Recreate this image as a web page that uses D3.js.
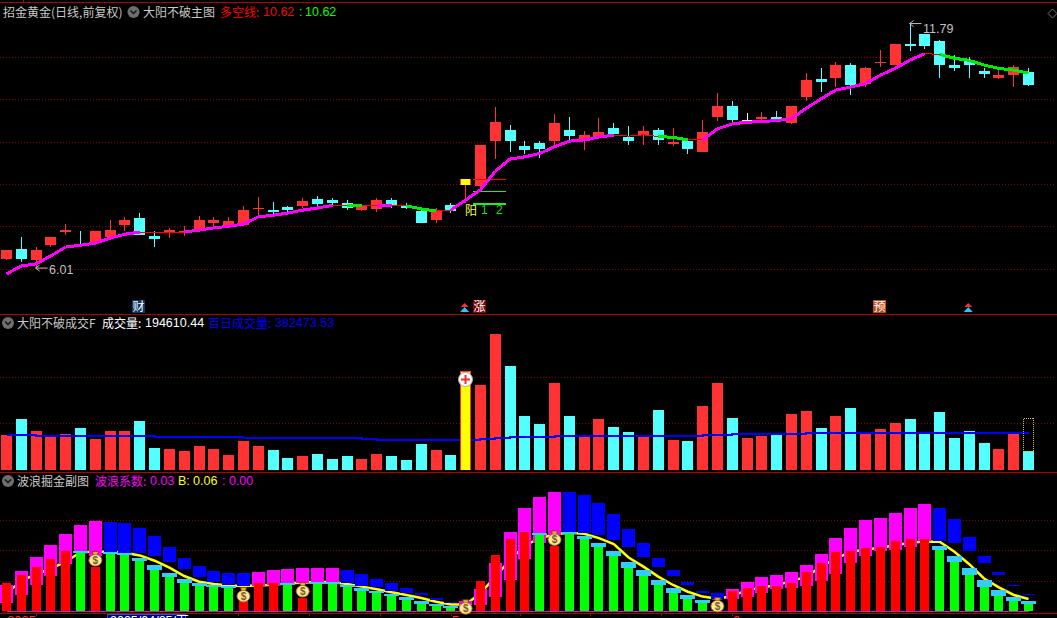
<!DOCTYPE html>
<html><head><meta charset="utf-8">
<script src="https://cdn.jsdelivr.net/npm/d3@7"></script>
<style>html,body{margin:0;padding:0;background:#000;overflow:hidden}svg{display:block}
text{font-family:"Noto Sans CJK SC","Liberation Sans",sans-serif}</style></head><body>
<script>
// ---------- price panel ----------
const open  = [6.22,6.46,6.20,6.55,6.86,6.58,6.60,6.74,7.03,7.19,6.77,6.84,6.86,6.93,7.07,7.00,7.03,7.41,7.38,7.45,7.48,7.64,7.62,7.55,7.38,7.41,7.62,7.50,7.36,7.15,7.50,7.97,7.95,9.01,9.27,8.90,8.97,9.01,9.27,9.01,9.09,9.32,9.11,9.16,9.27,8.94,9.01,8.75,9.58,9.84,9.52,9.53,9.58,9.44,10.05,10.48,10.50,10.81,10.36,10.86,10.81,11.31,11.54,11.38,10.81,10.93,10.67,10.50,10.57,10.65];
const close = [6.44,6.22,6.44,6.74,6.91,6.55,6.89,6.91,7.15,6.79,6.70,6.91,6.89,7.15,7.15,7.12,7.38,7.43,7.34,7.38,7.60,7.52,7.55,7.43,7.48,7.62,7.48,7.43,7.07,7.38,7.36,8.11,8.92,9.46,9.01,8.80,8.82,9.44,9.13,9.16,9.23,9.18,9.01,9.25,9.04,8.99,8.82,9.23,9.84,9.51,9.52,9.58,9.53,9.84,10.46,10.41,10.81,10.34,10.74,10.88,11.31,11.26,11.26,10.81,10.74,10.81,10.60,10.57,10.76,10.34];
const high  = [6.44,6.74,6.51,6.74,7.05,6.89,6.89,7.15,7.22,7.31,6.89,6.96,7.00,7.24,7.22,7.22,7.48,7.69,7.57,7.48,7.67,7.71,7.67,7.62,7.52,7.67,7.67,7.55,7.38,7.43,7.55,8.11,8.92,9.82,9.39,9.01,9.01,9.65,9.58,9.25,9.56,9.44,9.37,9.37,9.32,9.32,9.04,9.51,10.15,9.96,9.68,9.70,9.72,9.84,10.62,10.74,10.88,10.86,10.76,11.16,11.31,11.79,11.54,11.40,11.05,11.00,10.74,10.74,10.81,10.74];
const low   = [6.20,6.15,6.01,6.51,6.79,6.55,6.58,6.67,6.89,6.79,6.51,6.72,6.77,6.86,6.98,6.98,7.00,7.19,7.22,7.34,7.43,7.48,7.50,7.38,7.36,7.34,7.43,7.41,7.07,7.07,7.31,7.55,7.90,8.59,8.75,8.71,8.61,8.92,9.01,8.80,9.09,9.13,8.92,8.92,8.92,8.90,8.71,8.75,9.49,9.46,9.49,9.46,9.51,9.42,9.96,10.17,10.29,10.10,10.29,10.76,10.81,11.14,11.19,10.50,10.67,10.50,10.50,10.48,10.29,10.31];
const bullBear = [5.87,6.06,6.11,6.30,6.51,6.55,6.60,6.72,6.81,6.86,6.85,6.84,6.86,6.91,6.96,7.00,7.05,7.22,7.26,7.31,7.38,7.43,7.49,7.48,7.48,7.48,7.49,7.48,7.41,7.36,7.38,7.62,7.86,8.30,8.59,8.64,8.72,8.88,9.01,9.04,9.11,9.15,9.13,9.16,9.12,9.10,9.04,9.04,9.30,9.42,9.46,9.47,9.50,9.54,9.79,10.01,10.22,10.29,10.37,10.57,10.73,10.93,11.08,11.06,10.97,10.92,10.81,10.73,10.69,10.62];
const bullBearState = ("mmmmmmmmm"+"rrr"+"mmmmmmmmmm"+"r"+"g"+"r"+"m"+"r"+"gg"+"r"+"mmmmmmmmmmm"+"rrr"+"gg"+"r"+"mmmmmmmmmmmmmmm"+"r"+"gggggg").split("");
const priceTicks = [6,7,8,9,10,11];
const refLevels = [8.11,7.83,7.53];

// ---------- volume panel ----------
const volume = [350,510,390,340,360,420,310,390,390,490,220,210,190,240,210,150,290,240,200,120,140,160,110,140,110,160,140,100,260,200,150,990,850,1360,1040,540,460,870,540,340,510,430,380,340,600,300,290,640,870,520,320,340,350,560,590,420,540,620,370,410,470,510,370,580,320,390,270,210,370,190];
const volAvg = [353,353,340,340,340,340,340,340,340,340,333,333,333,333,333,333,323,323,323,323,323,323,323,323,313,300,300,300,300,300,300,300,313,323,333,333,333,340,340,340,340,340,340,340,340,340,340,350,350,360,360,360,360,360,370,370,370,370,370,370,370,370,370,370,370,370,370,370,370,370];
const volTicks = [475,935];
const volForecast = 520;

// ---------- wave panel ----------
const waveBar = [.139,.178,.217,.256,.295,.284,.219,.284,.284,.246,.202,.168,.139,.124,.124,.116,.051,.139,.139,.137,.065,.139,.134,.121,.099,.090,.075,.055,.036,.026,.016,.010,.148,.276,.354,.388,.374,.321,.378,.354,.315,.271,.212,.173,.129,.090,.060,.041,.030,.099,.114,.124,.124,.139,.192,.236,.290,.295,.310,.315,.344,.354,.354,.300,.241,.178,.119,.075,.051,.036];
const waveBarColor = ("rrrrr"+"g"+"r"+"ggggggggg"+"rrr"+"g"+"r"+"gggggggggg"+"rrrrr"+"g"+"r"+"gggggggggg"+"rrrrrrrrrrrrrrr"+"ggggggg").split("");
const waveCap = {5:.295,7:.292,8:.287,9:.261,10:.225,11:.187,12:.158,13:.139,14:.129,15:.125,19:.140,21:.143,22:.143,23:.130,24:.114,25:.099,26:.085,27:.070,28:.051,29:.036,30:.026,36:.383,38:.388,39:.368,40:.334,41:.295,42:.241,43:.202,44:.153,45:.114,46:.080,47:.055,63:.320,64:.271,65:.212,66:.153,67:.104,68:.070,69:.051};
const wideTop = [.127,.197,.266,.324,.378,.422,.442,.437,.432,.407,.368,.315,.261,.222,.197,.187,.187,.192,.202,.207,.212,.212,.212,.202,.183,.158,.139,.114,.090,.065,.046,.051,.109,.236,.388,.506,.559,.584,.584,.569,.530,.476,.403,.334,.261,.202,.143,.099,.090,.109,.143,.168,.178,.192,.227,.280,.359,.408,.447,.457,.481,.506,.525,.506,.452,.364,.271,.192,.129,.085];
const wideBot = [.042,.080,.129,.173,.231,.290,.271,.290,.284,.284,.271,.241,.207,.168,.143,.129,.124,.124,.127,.137,.137,.142,.143,.137,.124,.117,.099,.088,.078,.055,.041,.031,.031,.070,.153,.256,.333,.372,.388,.382,.374,.349,.315,.266,.217,.173,.129,.090,.059,.059,.070,.090,.109,.114,.124,.148,.183,.236,.271,.295,.300,.315,.344,.344,.334,.295,.236,.178,.125,.082];
const wideColor = ("mmmmmmm"+"bbbbbbbbbb"+"mmmmmm"+"bbbbbbbb"+"mmmmmmm"+"bbbbbbbbbbb"+"mmmmmmmmmmmmmm"+"bbbbbbb").split("");
const waveLine = [.088,.148,.183,.209,.243,.290,.292,.292,.287,.274,.248,.214,.173,.145,.134,.127,.124,.127,.130,.137,.140,.145,.142,.134,.121,.108,.093,.080,.065,.047,.033,.033,.088,.170,.251,.324,.357,.378,.385,.380,.359,.329,.264,.219,.170,.129,.096,.072,.062,.075,.104,.117,.129,.148,.170,.219,.258,.292,.303,.312,.324,.336,.342,.341,.292,.231,.161,.117,.080,.060];
const waveTicks = [.15,.30,.45];
const bagIdx = [6,16,20,31,37,48];
const bagValue = [.256,.080,.104,.020,.357,.031];
const dateTicks = [2,12,15.6,20.4,25.2,30,34.7,39.4,44.2,49];

const sigIdx = {"财":9,"涨":32,"预":59};
const sigColor = {"财":"#0a3a68","涨":"#7a0606","预":"#c04a12"};
const arrowIdx = [31,65];

const W=1057,H=618;
const svg=d3.select("body").append("svg").attr("width",W).attr("height",H).style("background","#000");
const x=d3.scaleLinear().domain([0,69]).range([6.5,1028.5]);
const px=i=>Math.floor(x(i));
const yP=d3.scaleLinear().domain([6,11]).range([268.5,57]);
const yV=d3.scaleLinear().domain([0,1000]).range([470,370]);
const yW=d3.scaleLinear().domain([0,.45]).range([611.3,519.5]);
const RED="#ff3333",CY="#54ffff",FRAME="#b00000",GRID="#8a0000";
const idx=d3.range(70);

// frames
[2.5,314.5,472.5,613.5].forEach(y=>svg.append("line").attr("x1",0).attr("x2",W).attr("y1",y).attr("y2",y).attr("stroke",FRAME).attr("stroke-width",1));
svg.append("line").attr("x1",23.5).attr("x2",23.5).attr("y1",0).attr("y2",2).attr("stroke",FRAME);

// grids
function grid(scale,ticks){
  ticks.forEach(t=>{const y=Math.round(scale(t))+.5;
    svg.append("line").attr("x1",0).attr("x2",1054).attr("y1",y).attr("y2",y)
      .attr("stroke",GRID).attr("stroke-dasharray","1 2");});
}
grid(yP,priceTicks);grid(yV,volTicks);grid(yW,waveTicks);

// candles
const cg=svg.append("g").attr("shape-rendering","crispEdges");
idx.forEach(i=>{
  const o=open[i],c=close[i];
  const col=i===31?RED:(c>o?RED:(c<o?CY:"#fff"));
  const X=px(i);
  cg.append("line").attr("x1",X+.5).attr("x2",X+.5).attr("y1",yP(high[i])).attr("y2",yP(low[i])).attr("stroke",col);
  const t=yP(Math.max(o,c)),b=yP(Math.min(o,c));
  cg.append("rect").attr("x",X-5).attr("width",11).attr("y",Math.round(t)).attr("height",Math.max(1,Math.round(b-t))).attr("fill",col);
  if(i===31) cg.append("rect").attr("x",X-4).attr("width",9).attr("y",Math.round(t)).attr("height",Math.round(b-t)).attr("fill","#ffff00");
});

// reference levels
refLevels.forEach((v,k)=>{
  svg.append("line").attr("x1",x(31.5)).attr("x2",x(33.7)).attr("y1",yP(v)).attr("y2",yP(v))
    .attr("stroke",k===0?"#ff0000":"#22ee22").attr("stroke-width",k===2?2:1).attr("shape-rendering","crispEdges");
});
svg.append("text").attr("x",465).attr("y",215).attr("fill","#ffff33").style("font-size","12px").text("阳");
svg.append("text").attr("x",481).attr("y",214).attr("fill","#22dd22").style("font-size","12px").style("font-family","Liberation Sans").text("1");
svg.append("text").attr("x",496).attr("y",214).attr("fill","#22dd22").style("font-size","12px").style("font-family","Liberation Sans").text("2");

// bull/bear line
const stateStyle={m:["#ff00ff",3],g:["#00ee00",3],r:["#ff0000",1]};
idx.slice(0,69).forEach(i=>{
  const s=stateStyle[bullBearState[i]];
  svg.append("line").attr("x1",x(i)).attr("x2",x(i+1)).attr("y1",yP(bullBear[i])).attr("y2",yP(bullBear[i+1]))
    .attr("stroke",s[0]).attr("stroke-width",s[1]).attr("shape-rendering","crispEdges");
});

// hi / lo annotation
function note(ax,ay,txt,tx,ty){
  svg.append("path").attr("d",`M${ax} ${ay}h12M${ax+4} ${ay-3}L${ax} ${ay}L${ax+4} ${ay+3}`).attr("fill","none").attr("stroke","#c0c0c0");
  svg.append("text").attr("x",tx).attr("y",ty).attr("fill","#c0c0c0").style("font-size","12.5px").style("font-family","Liberation Sans").text(txt);
}
const minI=d3.leastIndex(low),maxI=d3.greatestIndex(high);
note(x(minI)-0.5,yP(low[minI]),d3.format(".2f")(low[minI]),49,274);
note(x(maxI)-0.5,yP(high[maxI]),d3.format(".2f")(high[maxI]),923,33);

// signal markers
Object.keys(sigIdx).forEach(k=>{
  const X=px(sigIdx[k]);
  svg.append("rect").attr("x",X-7).attr("y",300).attr("width",13).attr("height",13).attr("fill",sigColor[k]);
  svg.append("text").attr("x",X-.5).attr("y",311).attr("text-anchor","middle").attr("fill","#fff").style("font-size","12px").text(k);
});
arrowIdx.forEach(i=>{
  const X=x(i)-1;
  svg.append("path").attr("d",`M${X} 303l4 4h-8z`).attr("fill","#ff3030");
  svg.append("path").attr("d",`M${X} 307l4.5 5h-9z`).attr("fill","#20c8ff");
});

// volume
const vg=svg.append("g").attr("shape-rendering","crispEdges");
idx.forEach(i=>{
  if(i===31)return;
  vg.append("rect").attr("x",px(i)-5).attr("width",11).attr("y",Math.round(yV(volume[i]))).attr("height",470-Math.round(yV(volume[i]))).attr("fill",close[i]>=open[i]?RED:CY);
});
svg.append("path").datum(volAvg).attr("fill","none").attr("stroke","#0000ff").attr("stroke-width",2)
  .attr("shape-rendering","crispEdges")
  .attr("d",d3.line().x((d,i)=>x(i)).y(d=>yV(d)).curve(d3.curveStepAfter));
{const X=px(31);
 svg.append("rect").attr("x",X-5).attr("width",11).attr("y",yV(volume[31])).attr("height",470-yV(volume[31])).attr("fill",RED).attr("shape-rendering","crispEdges");
 svg.append("rect").attr("x",X-4).attr("width",9).attr("y",yV(volume[31])+1).attr("height",470-yV(volume[31])-1).attr("fill","#ffff00").attr("shape-rendering","crispEdges");
 const cy=yV(volume[31])+8.5;
 svg.append("circle").attr("cx",X+.5).attr("cy",cy).attr("r",7).attr("fill","#fff").attr("stroke","#aaa");
 svg.append("path").attr("d",`M${X-4} ${cy}h9M${X+.5} ${cy-4.5}v9`).attr("stroke","#f03030").attr("stroke-width",2);
}
svg.append("rect").attr("x",px(69)-4.5).attr("y",yV(volForecast)).attr("width",10).attr("height",yV(volume[69])-yV(volForecast))
  .attr("fill","none").attr("stroke","#c8c820").attr("stroke-dasharray","1 1").attr("shape-rendering","crispEdges");

// wave
svg.append("path").datum(waveLine).attr("fill","none").attr("stroke","#ffff00").attr("stroke-width",2.5)
  .attr("d",d3.line().x((d,i)=>x(i)).y(d=>yW(d)));
const wg=svg.append("g").attr("shape-rendering","crispEdges");
idx.forEach(i=>{
  const X=px(i);
  wg.append("rect").attr("x",X-6).attr("width",13).attr("y",yW(wideTop[i])).attr("height",Math.max(1,yW(wideBot[i])-yW(wideTop[i]))).attr("fill",wideColor[i]==="m"?"#ff00ff":"#0000ff");
});
idx.forEach(i=>{
  const X=px(i);
  wg.append("rect").attr("x",X-4).attr("width",9).attr("y",yW(waveBar[i])).attr("height",yW(0)-yW(waveBar[i])).attr("fill",waveBarColor[i]==="r"?"#ff0000":"#00ff00");
  if(waveCap[i]!==undefined) wg.append("rect").attr("x",X-7).attr("width",15).attr("y",yW(waveCap[i])).attr("height",Math.max(2,yW(waveBar[i])-yW(waveCap[i]))).attr("fill","#33ccff");
});
svg.append("line").attr("x1",x(0)).attr("x2",x(69)).attr("y1",611.5).attr("y2",611.5).attr("stroke","#c020c0").attr("shape-rendering","crispEdges");

// money bags
bagIdx.forEach((i,k)=>{
  const g=svg.append("g").attr("transform",`translate(${x(i)},${yW(bagValue[k])})`);
  g.append("path").attr("d","M-3 -7.5L3 -7.5L2 -4L-2 -4Z").attr("fill","#e8b040").attr("stroke","#7a3a10").attr("stroke-width",.8);
  g.append("ellipse").attr("cx",0).attr("cy",1.2).attr("rx",6.5).attr("ry",5.8).attr("fill","#ffe890").attr("stroke","#a07018").attr("stroke-width",.9);
  g.append("text").attr("x",0).attr("y",5).attr("text-anchor","middle").attr("fill","#7a5a30").style("font-size","10px").style("font-family","Liberation Sans").style("font-weight","bold").text("$");
});

// bottom axis
const axis=d3.axisBottom(x).tickValues(dateTicks).tickSize(3).tickFormat("");
const ax=svg.append("g").attr("transform","translate(0,613)").call(axis);
ax.select(".domain").remove();
ax.selectAll("line").attr("stroke",FRAME).attr("shape-rendering","crispEdges");
svg.append("rect").attr("x",107.5).attr("y",614.5).attr("width",78).attr("height",10).attr("fill","#000070").attr("stroke","#3050d0");
svg.append("text").attr("x",110).attr("y",625).attr("fill","#fff").style("font-size","12.5px").style("font-family","Liberation Sans").text("2025/04/25/五");
[[7,"2025"],[452,"5"],[733,"6"]].forEach(d=>{
  svg.append("text").attr("x",d[0]).attr("y",625).attr("fill","#ff3333").style("font-size","13px").style("font-family","Liberation Sans").text(d[1]);
});

// headers
function cjk(x0,y,s,col){ svg.append("text").attr("x",x0).attr("y",y).attr("fill",col).style("font-size","12px").text(s); }
function num(x0,y,s,col){ svg.append("text").attr("x",x0).attr("y",y).attr("fill",col).style("font-size","12.5px").style("font-family","Liberation Sans").text(s); }
function icon(cx,cy){
  svg.append("circle").attr("cx",cx).attr("cy",cy).attr("r",6).attr("fill","#6e6e6e");
  svg.append("path").attr("d",`M${cx-3} ${cy-1.5}L${cx} ${cy+1.5}L${cx+3} ${cy-1.5}`).attr("fill","none").attr("stroke","#111").attr("stroke-width",1.4);
}
const GREY="#c8c8c8";
cjk(3,16.5,"招金黄金(日线,前复权)",GREY);icon(133.5,12);cjk(143,16.5,"大阳不破主图",GREY);
cjk(220,16.5,"多空线:","#ff0000");num(263,16,"10.62","#ff0000");num(299,16,":","#00ff00");num(305,16,"10.62","#00ff00");
icon(8,323);cjk(17,327.5,"大阳不破成交F",GREY);cjk(102,327.5,"成交量:","#fff");num(145,327,"194610.44","#fff");
cjk(208,327.5,"百日成交量:","#0000ff");num(275,327,"382473.53","#0000ff");
icon(8,481);cjk(17,485.5,"波浪掘金副图",GREY);cjk(95,485.5,"波浪系数:","#ff00ff");num(150,485,"0.03","#ff00ff");
num(178,485,"B:","#ffff00");num(193,485,"0.06","#ffff00");num(222,485,": 0.00","#ff00ff");

// corner diamond
svg.append("path").attr("d","M1048 13.5L1052.5 9L1057 13.5L1052.5 18Z").attr("fill","none").attr("stroke","#777");
</script></body></html>
